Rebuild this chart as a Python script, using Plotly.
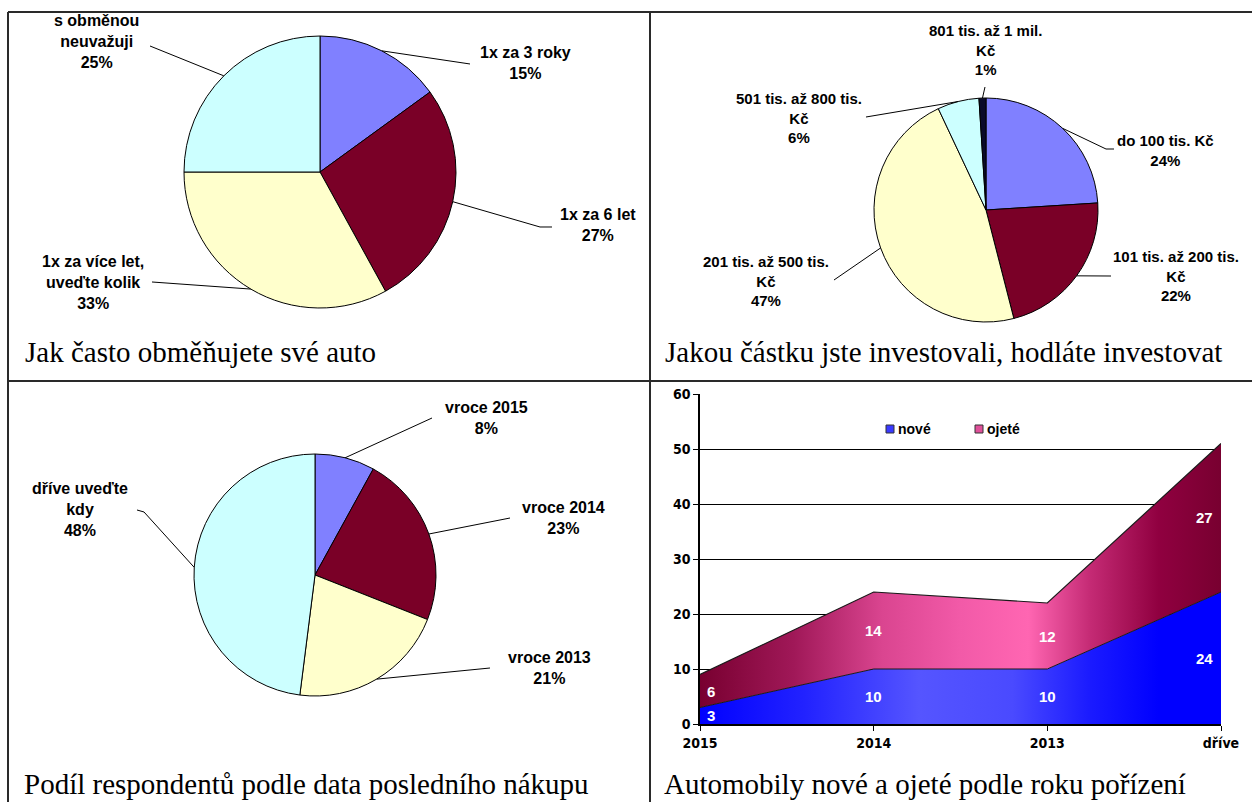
import math
import plotly.graph_objects as go

W, H = 1252, 802

# ---------------- data ----------------
freq_labels = ["1x za 3 roky", "1x za 6 let", "1x za více let,<br>uveďte kolik", "s obměnou<br>neuvažuji"]
freq_values = [15, 27, 33, 25]

inv_labels = ["do 100 tis. Kč", "101 tis. až 200 tis.<br>Kč", "201 tis. až 500 tis.<br>Kč",
              "501 tis. až 800 tis.<br>Kč", "801 tis. až 1 mil.<br>Kč"]
inv_values = [24, 22, 47, 6, 1]

buy_labels = ["vroce 2015", "vroce 2014", "vroce 2013", "dříve uveďte<br>kdy"]
buy_values = [8, 23, 21, 48]

years = ["2015", "2014", "2013", "dříve"]
nove = [3, 10, 10, 24]
ojete = [6, 14, 12, 27]
series_names = ["nové", "ojeté"]

titles = ["Jak často obměňujete své auto",
          "Jakou částku jste investovali, hodláte investovat",
          "Podíl respondentů podle data posledního nákupu",
          "Automobily nové a ojeté podle roku pořízení"]

# ---------------- styles / layout ----------------
pie_colors = ["#8080FF", "#7A0027", "#FFFFCC", "#CCFFFF", "#0A0A2A"]
SANS = "Liberation Sans, Arial, sans-serif"
NARROW = "Liberation Sans Narrow, Arial Narrow, DejaVu Sans Condensed, sans-serif"
label_font = dict(family=SANS, size=16, color="black")
title_font = dict(family="Liberation Serif, Times New Roman, serif", size=29, color="black")


def px(x):
    return x / W


def py(y):
    return 1 - y / H


# pie geometry in pixels: (cx, cy, r)
pies = [
    dict(labels=freq_labels, values=freq_values, geo=(320, 172, 136), fsize=16,
         text_pos=[(525, 63), (598, 225), (93, 283), (97, 42)],
         lead=[[(470, 64)], [(552, 227), (540, 227)], [(152, 282)], [(150, 46)]]),
    dict(labels=inv_labels, values=inv_values, geo=(986, 210, 112), fsize=15,
         text_pos=[(1165, 150), (1176, 276), (766, 281), (799, 118), (985, 50)],
         lead=[[(1114, 149), (1106, 149)], [(1111, 276)], [(834, 280)], [(866, 117)], [(985, 87)]]),
    dict(labels=buy_labels, values=buy_values, geo=(315, 575, 121), fsize=16,
         text_pos=[(486, 418), (563, 518), (549, 668), (80, 509)],
         lead=[[(432, 418)], [(510, 518)], [(490, 668)], [(137, 510), (144, 512)]]),
]

fig = go.Figure()
annotations = []
shapes = []

for p in pies:
    cx, cy, r = p["geo"]
    n = len(p["values"])
    fig.add_trace(go.Pie(
        labels=[l.replace("<br>", " ") for l in p["labels"]],
        values=p["values"], sort=False, direction="clockwise", rotation=0,
        marker=dict(colors=pie_colors[:n], line=dict(color="black", width=1)),
        textinfo="none", hoverinfo="label+percent", showlegend=False, automargin=False,
        domain=dict(x=[px(cx - r), px(cx + r)], y=[py(cy + r), py(cy - r)]),
    ))
    total = sum(p["values"])
    cum = 0
    for i, (lab, v) in enumerate(zip(p["labels"], p["values"])):
        mid = (cum + v / 2) / total
        cum += v
        ang = 2 * math.pi * mid
        ex, ey = cx + r * math.sin(ang), cy - r * math.cos(ang)
        tx, ty = p["text_pos"][i]
        annotations.append(dict(
            x=px(tx), y=py(ty), xref="paper", yref="paper", showarrow=False,
            text="<b>" + lab + "<br>" + f"{v}%" + "</b>",
            font=dict(label_font, size=p["fsize"]), align="center",
            xanchor="center", yanchor="middle"))
        pts = p["lead"][i] + [(ex, ey)]
        path = "M " + " L ".join(f"{px(a):.5f},{py(b):.5f}" for a, b in pts)
        shapes.append(dict(type="path", path=path, xref="paper", yref="paper",
                           line=dict(color="black", width=1)))

# ---------------- area chart ----------------
nove_grad = [[0, "#0000FF"], [0.2, "#2222FF"], [0.42, "#5555FF"], [0.6, "#4a4aFF"],
             [0.75, "#1a1aFF"], [0.88, "#0000FF"], [1, "#0000FF"]]
ojete_grad = [[0, "#780030"], [0.18, "#A01858"], [0.35, "#DA4590"], [0.5, "#F25AA8"],
              [0.63, "#FF66B2"], [0.75, "#C42A74"], [0.88, "#900040"], [1, "#780030"]]

fig.add_trace(go.Scatter(
    x=years, y=nove, name=series_names[0], stackgroup="one", mode="lines",
    line=dict(color="#1a1a1a", width=1), fillcolor="#3333FF",
    fillgradient=dict(type="horizontal", colorscale=nove_grad),
    xaxis="x", yaxis="y", hoverinfo="x+y", showlegend=False))
fig.add_trace(go.Scatter(
    x=years, y=ojete, name=series_names[1], stackgroup="one", mode="lines",
    line=dict(color="#1a1a1a", width=1.2), fillcolor="#D04090",
    fillgradient=dict(type="horizontal", colorscale=ojete_grad),
    xaxis="x", yaxis="y", hoverinfo="x+y", showlegend=False))

# data labels (white, bold) at the middle of each stacked band (x = category index)
n_pts = len(years)
shifts = [11] + [0] * (n_pts - 2) + [-17]
val_font = dict(family=SANS, size=15, color="white")
for i in range(n_pts):
    annotations.append(dict(x=i, y=nove[i] / 2, xref="x", yref="y", showarrow=False,
                            text=f"<b>{nove[i]}</b>", font=val_font, xshift=shifts[i]))
    annotations.append(dict(x=i, y=nove[i] + ojete[i] / 2, xref="x", yref="y", showarrow=False,
                            text=f"<b>{ojete[i]}</b>", font=val_font, xshift=shifts[i]))

# custom legend: small squares + bold names
leg_items = [(886, 429, "#3a3aFF"), (975, 429, "#E0509A")]
for name, (lx, ly, col) in zip(series_names, leg_items):
    shapes.append(dict(type="rect", xref="paper", yref="paper",
                       x0=px(lx), x1=px(lx + 8), y0=py(ly + 4), y1=py(ly - 4),
                       fillcolor=col, line=dict(color="#333333", width=1)))
    annotations.append(dict(x=px(lx + 10), y=py(ly), xref="paper", yref="paper",
                            showarrow=False, text=f"<b>{name}</b>", xanchor="left",
                            yanchor="middle", font=dict(family=SANS, size=14, color="black")))

# ---------------- titles ----------------
title_pos = [(23, 352, "left"), (663, 352, "left"), (22, 784, "left"), (662, 784, "left")]
for t, (tx, ty, anc) in zip(titles, title_pos):
    annotations.append(dict(x=px(tx), y=py(ty), xref="paper", yref="paper", showarrow=False,
                            text=t, font=title_font, xanchor=anc, yanchor="middle"))

# ---------------- cell borders ----------------
bc = dict(color="#2a2a2a", width=2)
for (x0, y0, x1, y1) in [(8, 12, 1260, 12), (8, 12, 8, 810),
                         (650, 12, 650, 810), (8, 381, 1260, 381)]:
    shapes.append(dict(type="line", xref="paper", yref="paper",
                       x0=px(x0), y0=py(y0), x1=px(x1), y1=py(y1), line=bc))

fig.update_layout(
    width=W, height=H, margin=dict(l=0, r=0, t=0, b=0, autoexpand=False),
    paper_bgcolor="white", plot_bgcolor="white", showlegend=False,
    annotations=annotations, shapes=shapes,
    xaxis=dict(domain=[px(700), px(1221)], type="category", categoryorder="array",
               categoryarray=years, range=[0, n_pts - 1], showgrid=False, automargin=False,
               showline=True, linecolor="black", linewidth=1.5, ticks="outside",
               ticklen=5, tickcolor="black", tickfont=dict(family=NARROW, size=14, color="black"),
               tickprefix="<b>", ticksuffix="</b>", anchor="y", fixedrange=True),
    yaxis=dict(domain=[py(724), py(394)], range=[0, 60], dtick=10, showgrid=True,
               gridcolor="black", gridwidth=1, showline=True, linecolor="black",
               linewidth=1.5, ticks="outside", ticklen=5, tickcolor="black", automargin=False,
               zeroline=False, tickfont=dict(family=NARROW, size=14, color="black"),
               tickprefix="<b>", ticksuffix="</b>", anchor="x", fixedrange=True),
)

fig.write_html("out.html")
